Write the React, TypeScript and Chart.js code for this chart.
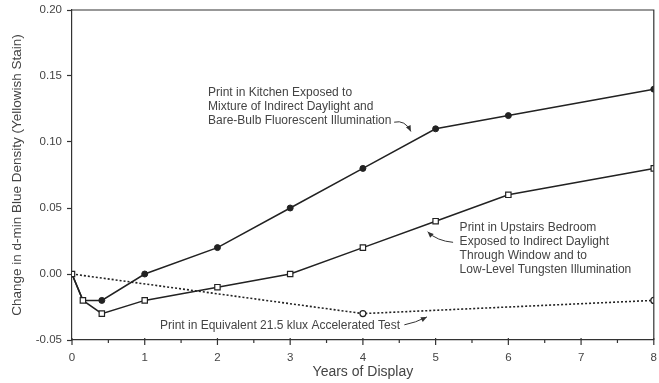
import React, { useEffect, useRef } from 'react';
import { Chart, registerables } from 'chart.js';
Chart.register(...registerables);

const kitchenYears = [0, 0.15, 0.41, 1, 2, 3, 4, 5, 6, 8];
const kitchenValues = [0, -0.02, -0.02, 0, 0.02, 0.05, 0.08, 0.11, 0.12, 0.14];
const bedroomYears = [0, 0.15, 0.41, 1, 2, 3, 4, 5, 6, 8];
const bedroomValues = [0, -0.02, -0.03, -0.02, -0.01, 0, 0.02, 0.04, 0.06, 0.08];
const acceleratedYears = [0, 4, 8];
const acceleratedValues = [0, -0.03, -0.02];

const kitchenNote = ['Print in Kitchen Exposed to', 'Mixture of Indirect Daylight and', 'Bare-Bulb Fluorescent Illumination'];
const bedroomNote = ['Print in Upstairs Bedroom', 'Exposed to Indirect Daylight', 'Through Window and to', 'Low-Level Tungsten Illumination'];
const acceleratedNote = ['Print in Equivalent 21.5 klux Accelerated Test'];

const FONT = '"Liberation Sans", Arial, Helvetica, sans-serif';
const TEXT = '#444';
const INK = '#222';

const notes = [
  { lines: kitchenNote, x: 1.87, y: 0.137, arrow: { x0: 4.43, y0: 0.115, cx: 4.58, cy: 0.117, x1: 4.66, y1: 0.108 } },
  { lines: bedroomNote, x: 5.33, y: 0.035, arrow: { x0: 5.24, y0: 0.024, cx: 5.02, cy: 0.025, x1: 4.89, y1: 0.032 } },
  { lines: acceleratedNote, x: 1.21, y: -0.039, arrow: { x0: 4.57, y0: -0.0385, cx: 4.72, cy: -0.037, x1: 4.88, y1: -0.0325 } },
];

const pts = (xs: number[], ys: number[]) => xs.map((x, i) => ({ x, y: ys[i] }));

const zeroPad = (s: any) => {
  s.paddingLeft = 0;
  s.paddingRight = 0;
  s.paddingTop = 0;
  s.paddingBottom = 0;
};

const decorPlugin = {
  id: 'decor',
  afterDatasetsDraw(chart: any) {
    const { ctx, chartArea: a, scales } = chart;
    const xs = scales.x, ys = scales.y;
    ctx.save();
    ctx.strokeStyle = '#333';
    ctx.lineWidth = 1.2;
    ctx.beginPath();
    ctx.moveTo(a.left, a.top);
    ctx.lineTo(a.right, a.top);
    ctx.lineTo(a.right, a.bottom);
    ctx.stroke();
    for (let v = 0; v <= 8; v += 0.5) {
      const px = xs.getPixelForValue(v);
      const major = Number.isInteger(v);
      ctx.beginPath();
      ctx.moveTo(px, a.bottom - (major ? 2 : 0));
      ctx.lineTo(px, a.bottom + (major ? 5 : 3));
      ctx.stroke();
    }
    ctx.font = `12px ${FONT}`;
    ctx.textBaseline = 'middle';
    ctx.textAlign = 'left';
    for (const n of notes) {
      const lx = xs.getPixelForValue(n.x);
      const ly = ys.getPixelForValue(n.y);
      ctx.fillStyle = TEXT;
      n.lines.forEach((t, i) => ctx.fillText(t, lx, ly + i * 13.8));
      const ar = n.arrow;
      const x0 = xs.getPixelForValue(ar.x0), y0 = ys.getPixelForValue(ar.y0);
      const cx = xs.getPixelForValue(ar.cx), cy = ys.getPixelForValue(ar.cy);
      const x1 = xs.getPixelForValue(ar.x1), y1 = ys.getPixelForValue(ar.y1);
      ctx.strokeStyle = '#333';
      ctx.lineWidth = 1;
      ctx.beginPath();
      ctx.moveTo(x0, y0);
      ctx.quadraticCurveTo(cx, cy, x1, y1);
      ctx.stroke();
      const ang = Math.atan2(y1 - cy, x1 - cx);
      const L = 6, W = 2.6;
      ctx.fillStyle = '#333';
      ctx.beginPath();
      ctx.moveTo(x1, y1);
      ctx.lineTo(x1 - L * Math.cos(ang) + W * Math.sin(ang), y1 - L * Math.sin(ang) - W * Math.cos(ang));
      ctx.lineTo(x1 - L * Math.cos(ang) - W * Math.sin(ang), y1 - L * Math.sin(ang) + W * Math.cos(ang));
      ctx.closePath();
      ctx.fill();
    }
    ctx.restore();
  },
};

export default function App() {
  const ref = useRef<HTMLCanvasElement>(null);
  useEffect(() => {
    document.body.style.margin = '0';
    const chart = new Chart(ref.current!, {
      type: 'line',
      data: {
        datasets: [
          {
            label: 'Bedroom',
            data: pts(bedroomYears, bedroomValues),
            borderColor: INK,
            borderWidth: 1.5,
            pointStyle: 'rect',
            pointRadius: 3.8,
            pointBackgroundColor: '#fff',
            pointBorderColor: INK,
            pointBorderWidth: 1.2,
          },
          {
            label: 'Kitchen',
            data: pts(kitchenYears, kitchenValues),
            borderColor: INK,
            borderWidth: 1.5,
            pointStyle: 'circle',
            pointRadius: kitchenYears.map((_, i) => (i < 2 ? 0 : 3)),
            pointBackgroundColor: INK,
            pointBorderColor: INK,
            pointBorderWidth: 1,
          },
          {
            label: 'Accelerated',
            data: pts(acceleratedYears, acceleratedValues),
            borderColor: INK,
            borderWidth: 1.6,
            borderDash: [2, 2],
            pointStyle: 'circle',
            pointRadius: acceleratedYears.map((_, i) => (i === 0 ? 0 : 3)),
            pointBackgroundColor: '#fff',
            pointBorderColor: INK,
            pointBorderWidth: 1.2,
          },
        ],
      },
      options: {
        responsive: false,
        animation: false,
        devicePixelRatio: 1,
        layout: { padding: { top: 10, right: 5, left: 0, bottom: 0 } },
        plugins: { legend: { display: false }, tooltip: { enabled: false } },
        scales: {
          x: {
            type: 'linear',
            min: 0,
            max: 8,
            afterFit: (s: any) => { s.height = 43; zeroPad(s); },
            grid: { display: false, drawTicks: false },
            border: { display: true, color: '#333', width: 1.2 },
            ticks: {
              stepSize: 1,
              padding: 11,
              color: TEXT,
              font: { family: FONT, size: 11.5 },
              maxRotation: 0,
            },
            title: {
              display: true,
              text: 'Years of Display',
              color: TEXT,
              font: { family: FONT, size: 14 },
              padding: { top: 0, bottom: 2 },
            },
          },
          y: {
            type: 'linear',
            min: -0.05,
            max: 0.2,
            afterFit: (s: any) => { s.width = 72; zeroPad(s); },
            grid: { display: true, drawOnChartArea: false, drawTicks: true, tickLength: 5, tickColor: '#333', tickWidth: 1.2 },
            border: { display: true, color: '#333', width: 1.2 },
            ticks: {
              stepSize: 0.05,
              padding: 5,
              color: TEXT,
              font: { family: FONT, size: 11.5 },
              callback: (v: any) => Number(v).toFixed(2),
            },
            title: {
              display: true,
              text: 'Change in d-min Blue Density (Yellowish Stain)',
              color: TEXT,
              font: { family: FONT, size: 13.5 },
              padding: { top: 9, bottom: 0 },
            },
          },
        },
      },
      plugins: [decorPlugin],
    });
    return () => chart.destroy();
  }, []);
  return (
    <div style={{ width: 659, height: 383 }}>
      <canvas ref={ref} width={659} height={383} />
    </div>
  );
}
